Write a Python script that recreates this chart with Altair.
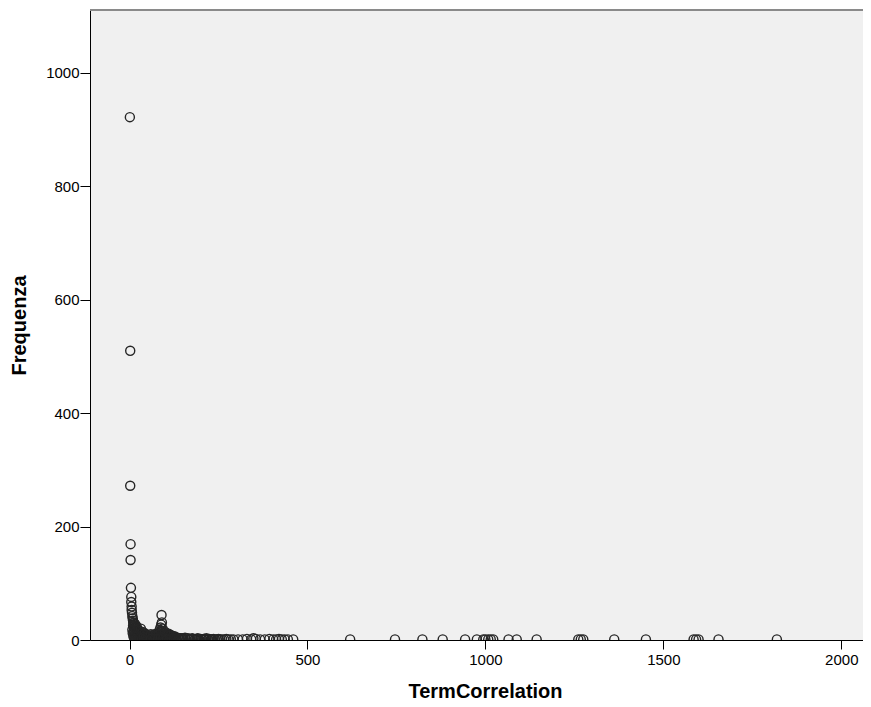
import altair as alt
import pandas as pd

# Spike near zero
spike_x = [1, 2, 2, 3, 3, 4, 5, 5, 6, 6, 7, 8, 9, 10, 11, 12, 13, 14, 15, 16]
spike_y = [922, 510, 272, 169, 141, 92, 76, 67, 59, 53, 48, 42, 38, 34, 31, 28, 26, 24, 22, 20]

# Dense cluster (x 8-55)
clusterA_x = [8, 9, 10, 11, 12, 12, 13, 14, 15, 16, 17, 18, 19, 20, 21, 22, 23, 24, 25, 26,
              27, 28, 29, 30, 31, 32, 33, 34, 35, 36, 37, 38, 39, 40, 41, 42, 43, 44, 45, 46,
              47, 48, 49, 50, 51, 52, 53, 54, 55, 12, 15, 18, 22, 25, 28, 31, 35, 40, 45, 50]
clusterA_y = [18, 12, 25, 8, 30, 15, 6, 21, 11, 28, 4, 17, 9, 24, 13, 3, 19, 7, 14, 10,
              5, 16, 2, 12, 8, 20, 6, 11, 3, 9, 14, 5, 7, 10, 2, 6, 12, 4, 8, 3,
              9, 5, 2, 7, 4, 6, 3, 5, 2, 5, 3, 2, 6, 2, 4, 3, 2, 5, 3, 2]

# Cluster with bump near 90 (x 56-145)
clusterB_x = [56, 58, 60, 62, 64, 66, 68, 70, 72, 74, 76, 78, 80, 82, 84, 85, 86, 87, 88, 89,
              90, 90, 91, 92, 93, 94, 95, 96, 98, 100, 102, 104, 106, 108, 110, 112, 114, 116, 118, 120,
              122, 124, 126, 128, 130, 132, 135, 138, 141, 144, 60, 70, 80, 95, 105, 115, 125, 100, 110, 88]
clusterB_y = [8, 4, 10, 3, 6, 9, 2, 7, 5, 11, 3, 8, 6, 12, 4, 18, 9, 22, 14, 27,
              44, 16, 31, 10, 20, 6, 13, 8, 4, 12, 7, 5, 10, 3, 8, 6, 4, 9, 3, 5,
              7, 2, 4, 6, 3, 2, 4, 3, 2, 3, 2, 2, 2, 3, 2, 2, 2, 14, 11, 5]

# Low tail (x 145-300)
clusterC_x = [148, 152, 156, 160, 164, 168, 172, 176, 180, 184, 188, 192, 196, 200, 204, 208, 212, 216, 220, 224,
              228, 232, 236, 240, 245, 250, 255, 260, 266, 272, 278, 285, 292, 150, 170, 190, 210, 230, 250]
clusterC_y = [3, 2, 4, 1, 3, 2, 1, 3, 2, 1, 2, 3, 1, 2, 1, 2, 1, 3, 1, 2,
              1, 1, 2, 1, 1, 2, 1, 1, 1, 2, 1, 1, 1, 1, 1, 1, 2, 1, 1]

# Sparse (x 300-460)
sparse_x = [305, 318, 330, 342, 348, 355, 367, 380, 393, 404, 412, 420, 428, 436, 445, 460]
sparse_y = [1, 1, 2, 1, 3, 2, 1, 1, 2, 1, 1, 2, 1, 1, 1, 1]

# Far outliers
far_x = [620, 746, 823, 880, 943, 976, 994, 1000, 1008, 1015, 1022, 1065, 1088, 1144,
         1261, 1268, 1275, 1362, 1451, 1585, 1592, 1599, 1655, 1819]
far_y = [1, 1, 1, 1, 1, 1, 1, 1, 1, 1, 1, 1, 1, 1,
         1, 1, 1, 1, 1, 1, 1, 1, 1, 1]

x_ticks = [0, 500, 1000, 1500, 2000]
y_ticks = [0, 200, 400, 600, 800, 1000]

xs, ys = [], []
for gx, gy in [(spike_x, spike_y), (clusterA_x, clusterA_y), (clusterB_x, clusterB_y),
               (clusterC_x, clusterC_y), (sparse_x, sparse_y), (far_x, far_y)]:
    for a, b in zip(gx, gy):
        xs.append(a)
        ys.append(b)

df = pd.DataFrame({"TermCorrelation": xs, "Frequenza": ys})

FONT = "Liberation Sans"
W, H = 773, 630

points = alt.Chart(df).mark_point(
    shape="circle", filled=False, size=82, stroke="#262626", strokeWidth=1.4,
    opacity=1, clip=True
).encode(
    x=alt.X("TermCorrelation:Q",
            scale=alt.Scale(domain=[-111, 2061], nice=False, zero=False),
            axis=alt.Axis(values=x_ticks, title="TermCorrelation", tickSize=9,
                          labelPadding=3, titlePadding=14, titleX=395, format="d")),
    y=alt.Y("Frequenza:Q",
            scale=alt.Scale(domain=[0, 1111], nice=False, zero=False),
            axis=alt.Axis(values=y_ticks, title="Frequenza", tickSize=10,
                          labelPadding=1, titlePadding=16, format="d")),
)

top_border = alt.Chart(df).mark_rule(color="#8a8a8a", strokeWidth=2).encode(
    x=alt.value(0), x2=alt.value(W), y=alt.value(0)
)

chart = alt.layer(points, top_border).properties(
    width=W, height=H,
    padding={"left": 82, "top": 2, "right": 0, "bottom": 66},
    autosize=alt.AutoSizeParams(type="none"),
).configure_view(
    fill="#F0F0F0", strokeOpacity=0
).configure_axis(
    grid=False, domainColor="#000000", domainWidth=1, tickColor="#000000", tickWidth=1,
    labelColor="#000000", labelFont=FONT, labelFontSize=15,
    titleColor="#000000", titleFont=FONT, titleFontSize=20, titleFontWeight="bold",
)

chart.save("out.html", embed_options={"renderer": "svg", "actions": False})
